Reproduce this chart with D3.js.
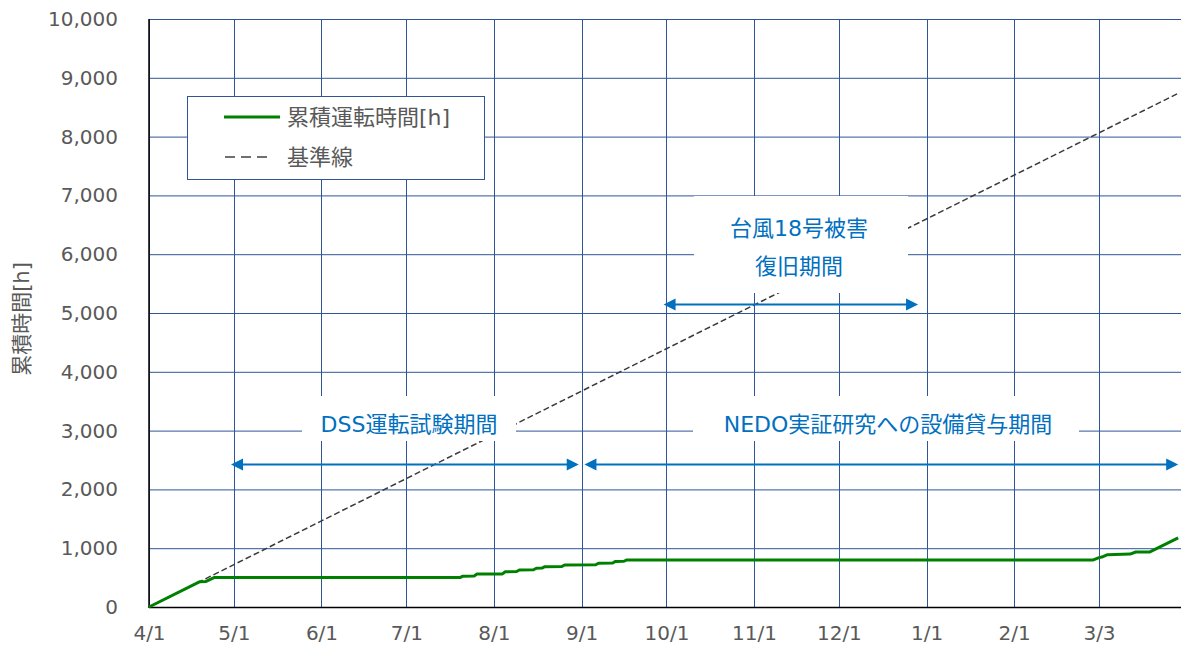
<!DOCTYPE html>
<html lang="ja">
<head>
<meta charset="utf-8">
<script src="https://cdn.jsdelivr.net/npm/d3@7"></script>
<style>
  html, body { margin: 0; padding: 0; background: #ffffff; }
  svg { display: block; }
  text { font-family: "DejaVu Sans", "Noto Sans CJK JP", sans-serif; }
</style>
</head>
<body>
<svg id="chart" width="1181" height="656"></svg>
<script>
// Cumulative operating hours (FY2017)
const runDates = [
  "2017-04-01", "2017-04-19", "2017-04-21", "2017-04-24", "2017-07-20", "2017-07-21",
  "2017-07-25", "2017-07-26", "2017-08-04", "2017-08-05", "2017-08-09", "2017-08-10",
  "2017-08-15", "2017-08-16", "2017-08-18", "2017-08-19", "2017-08-25", "2017-08-26",
  "2017-09-06", "2017-09-07", "2017-09-12", "2017-09-13", "2017-09-16", "2017-09-17",
  "2018-03-01", "2018-03-03", "2018-03-04", "2018-03-06", "2018-03-14", "2018-03-16",
  "2018-03-21", "2018-03-31"
];
const runHours = [
  0, 430, 432, 500, 500, 525,
  528, 560, 563, 600, 603, 630,
  633, 660, 663, 685, 688, 715,
  718, 745, 748, 775, 778, 800,
  800, 840, 850, 890, 900, 935,
  937, 1175
];

// Reference line: 24 h per day
const baseDates = ["2017-04-01", "2018-03-31"];
const baseHours = [0, 8736];

// Axis ticks
const yTicks = [0, 1000, 2000, 3000, 4000, 5000, 6000, 7000, 8000, 9000, 10000];
const xTickDates = [
  "2017-04-01", "2017-05-01", "2017-06-01", "2017-07-01", "2017-08-01", "2017-09-01",
  "2017-10-01", "2017-11-01", "2017-12-01", "2018-01-01", "2018-02-01", "2018-03-03"
];

// Periods shown with double-headed arrows
const periodNames = [["DSS運転試験期間"], ["NEDO実証研究への設備貸与期間"], ["台風18号被害", "復旧期間"]];
const periodStarts = ["2017-04-30", "2017-09-02", "2017-09-30"];
const periodEnds = ["2017-08-31", "2018-03-31", "2017-12-29"];

const seriesNames = ["累積運転時間[h]", "基準線"];
const yTitle = "累積時間[h]";

// ---------------------------------------------------------------
const parse = d3.timeParse("%Y-%m-%d");
const fmtDate = d3.timeFormat("%-m/%-d");
const fmtNum = d3.format(",");

const svg = d3.select("#chart");
const plotL = 149, plotR = 1181, plotT = 19, plotB = 607;

const x = d3.scaleTime()
  .domain([parse("2017-04-01"), parse("2018-04-01")])
  .range([plotL, plotR]);
const y = d3.scaleLinear().domain([0, 10000]).range([plotB, plotT]);

const gridColor = "#2f5597";
const textGray = "#595959";
const blue = "#0070c0";

// Gridlines
const grid = svg.append("g");
grid.selectAll("line.h").data(yTicks).join("line")
  .attr("x1", plotL).attr("x2", 1181)
  .attr("y1", d => y(d) + 0.5).attr("y2", d => y(d) + 0.5)
  .attr("stroke", gridColor).attr("stroke-width", 1);
grid.selectAll("line.v").data(xTickDates.map(parse)).join("line")
  .attr("x1", d => Math.round(x(d)) + 0.5).attr("x2", d => Math.round(x(d)) + 0.5)
  .attr("y1", plotT).attr("y2", plotB)
  .attr("stroke", gridColor).attr("stroke-width", 1);

// Axes
const yAxis = d3.axisLeft(y).tickValues(yTicks).tickFormat(fmtNum).tickSize(0).tickPadding(31);
const yg = svg.append("g").attr("transform", `translate(${plotL},0)`).call(yAxis);
yg.select(".domain").remove();
yg.selectAll("text").attr("fill", textGray).style("font-size", "20px")
  .style("font-family", "'DejaVu Sans', sans-serif");

const xAxis = d3.axisBottom(x).tickValues(xTickDates.map(parse)).tickFormat(fmtDate).tickSize(0).tickPadding(19);
const xg = svg.append("g").attr("transform", `translate(0,${plotB})`).call(xAxis);
xg.select(".domain").remove();
xg.selectAll("text").attr("fill", textGray).style("font-size", "20px")
  .style("font-family", "'DejaVu Sans', sans-serif");

svg.append("line").attr("x1", plotL).attr("x2", plotL).attr("y1", plotT).attr("y2", plotB + 1)
  .attr("stroke", "#000").attr("stroke-width", 1.5);
svg.append("line").attr("x1", plotL).attr("x2", 1181).attr("y1", plotB + 0.5).attr("y2", plotB + 0.5)
  .attr("stroke", "#000").attr("stroke-width", 1.5);

// Y axis title
svg.append("text")
  .attr("transform", `translate(29,${(plotT + plotB) / 2 + 6}) rotate(-90)`)
  .attr("text-anchor", "middle")
  .attr("fill", textGray)
  .style("font-size", "21px")
  .text(yTitle);

// Series
const line = d3.line().x(d => x(d[0])).y(d => y(d[1]));
const baseData = baseDates.map((d, i) => [parse(d), baseHours[i]]);
const runData = runDates.map((d, i) => [parse(d), runHours[i]]);

svg.append("path").datum(baseData).attr("d", line)
  .attr("fill", "none").attr("stroke", "#3a3a3a").attr("stroke-width", 1.5)
  .attr("stroke-dasharray", "6,3");
svg.append("path").datum(runData).attr("d", line)
  .attr("fill", "none").attr("stroke", "#008000").attr("stroke-width", 3)
  .attr("stroke-linejoin", "round");

// Period labels (white boxes over the grid) and arrows
const labelBoxes = [
  { x0: 302, x1: 516, y0: 396, y1: 441, cx: 409, lines: [424], arrowY: 2430 },
  { x0: 693, x1: 1079, y0: 396, y1: 441, cx: 888, lines: [424], arrowY: 2430 },
  { x0: 694, x1: 908, y0: 196, y1: 293, cx: 799, lines: [228, 266], arrowY: 5150 }
];

function arrow(g, xa, xb, yy) {
  const h = 12, w = 6;
  g.append("line").attr("x1", xa + h - 1).attr("x2", xb - h + 1).attr("y1", yy).attr("y2", yy)
    .attr("stroke", blue).attr("stroke-width", 2);
  g.append("path").attr("d", `M${xa},${yy}L${xa + h},${yy - w}L${xa + h},${yy + w}Z`).attr("fill", blue);
  g.append("path").attr("d", `M${xb},${yy}L${xb - h},${yy - w}L${xb - h},${yy + w}Z`).attr("fill", blue);
}

const ann = svg.append("g");
periodNames.forEach((names, i) => {
  const b = labelBoxes[i];
  ann.append("rect").attr("x", b.x0).attr("y", b.y0)
    .attr("width", b.x1 - b.x0).attr("height", b.y1 - b.y0).attr("fill", "#fff");
  names.forEach((t, j) => {
    ann.append("text").attr("x", b.cx).attr("y", b.lines[j])
      .attr("text-anchor", "middle").attr("dominant-baseline", "central")
      .attr("fill", blue).style("font-size", "22px").text(t);
  });
  arrow(ann, x(parse(periodStarts[i])), x(parse(periodEnds[i])), Math.round(y(b.arrowY)) + 0.5);
});

// Legend
const lg = svg.append("g");
lg.append("rect").attr("x", 187.5).attr("y", 96.5).attr("width", 297).attr("height", 83)
  .attr("fill", "#fff").attr("stroke", gridColor).attr("stroke-width", 1);
lg.append("line").attr("x1", 224).attr("x2", 280).attr("y1", 117).attr("y2", 117)
  .attr("stroke", "#008000").attr("stroke-width", 3);
lg.append("line").attr("x1", 225).attr("x2", 273).attr("y1", 157).attr("y2", 157)
  .attr("stroke", "#404040").attr("stroke-width", 1.6).attr("stroke-dasharray", "10,6");
[117, 157].forEach((yy, i) => {
  lg.append("text").attr("x", 287).attr("y", yy).attr("dominant-baseline", "central")
    .attr("fill", textGray).style("font-size", "22px").text(seriesNames[i]);
});
</script>
</body>
</html>
